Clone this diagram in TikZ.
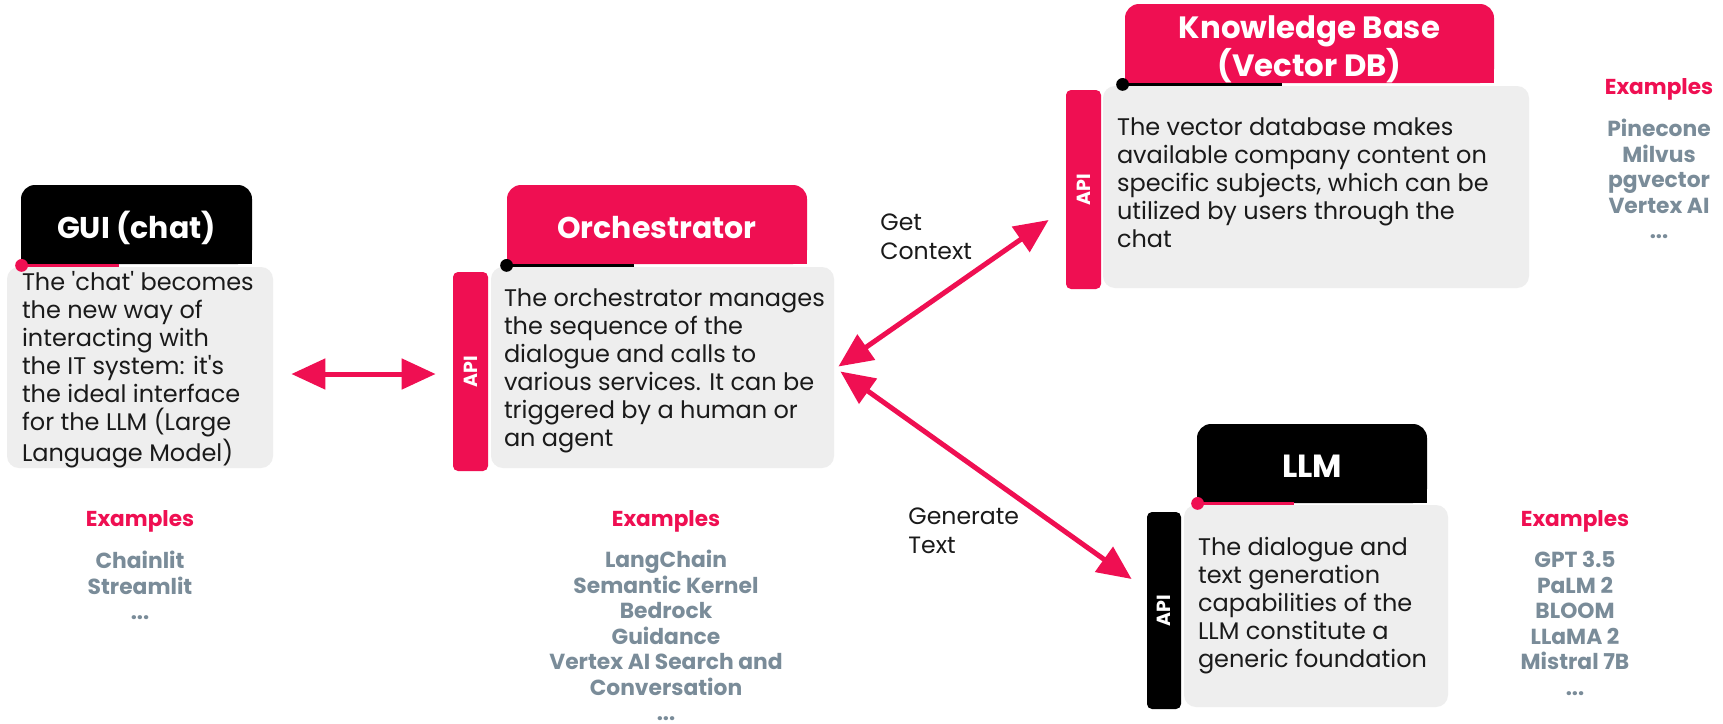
\documentclass[tikz,border=0pt]{standalone}
\usepackage{fontspec}
\setmainfont{Poppins}[Ligatures=TeXOff]
\usetikzlibrary{arrows.meta,backgrounds,calc}

\definecolor{crimson}{HTML}{EF0F52}
\definecolor{slate}{HTML}{7A8C99}
\definecolor{panel}{HTML}{EEEEEE}
\definecolor{ink}{HTML}{1A1A1A}

\tikzset{
  tab/.style={inner sep=0pt, rounded corners=7pt, minimum height=39.5pt},
  tabtitle/.style={inner sep=0pt, text=white, align=center,
    font=\bfseries\fontsize{15}{18.2}\selectfont},
  panelbox/.style={fill=panel, rounded corners=6pt, inner sep=0pt},
  bodytext/.style={anchor=north west, inner sep=0pt, align=left, text=ink,
    font=\fontsize{12}{14}\selectfont},
  apibar/.style={rotate=90, inner sep=0pt, rounded corners=2.5pt, text=white,
    font=\bfseries\fontsize{9.5}{11}\selectfont},
  exhead/.style={text=crimson, font=\bfseries\fontsize{10.8}{12}\selectfont,
    inner sep=0pt, anchor=base},
  exlist/.style={text=slate, font=\bfseries\fontsize{10.9}{12.75}\selectfont,
    align=center, inner sep=0pt, anchor=north},
  flow/.style={crimson, line width=2.5pt,
    {Triangle[length=17pt,width=15pt]}-{Triangle[length=17pt,width=15pt]}},
  lbl/.style={text=ink, font=\fontsize{11.8}{14.5}\selectfont, align=left,
    inner sep=0pt, anchor=north west},
  tabline/.style={line width=1.7pt},
}

\begin{document}
\begin{tikzpicture}[x=0.5pt,y=-0.5pt]
\useasboundingbox (0,0) rectangle (1723,723);
\begin{scope}[on background layer]
  \fill[white] (0,0) rectangle (1723,723);
\end{scope}

% ---------- GUI (chat) ----------
\node[tab, fill=black, minimum width=115.5pt] (guiH) at (136.5,224.5) {};
\node[tabtitle] (guiHT) at ($(guiH.center)+(0,3)$) {GUI (chat)};
\node[panelbox, minimum width=133pt, minimum height=100.5pt] (guiB) at (140,367.5) {};
\node[bodytext] (guiT) at ($(guiB.north west)+(15,4)$)
  {The 'chat' becomes\\the new way of\\interacting with\\the IT system: it's\\the ideal interface\\for the LLM (Large\\Language Model)};
\draw[tabline, crimson] ($(guiH.south west)+(1,1)$) coordinate (guiD) -- ++(97,0);
\fill[crimson] (guiD) circle (3.2pt);

% ---------- Orchestrator ----------
\node[tab, fill=crimson, minimum width=150pt] (orchH) at (657,224.5) {};
\node[tabtitle] (orchHT) at ($(orchH.center)+(0,3)$) {Orchestrator};
\node[panelbox, minimum width=171.5pt, minimum height=100.5pt] (orchB) at (662.5,367.5) {};
\node[apibar, fill=crimson, minimum width=99.5pt, minimum height=17.5pt] (orchA) at (470.5,371.5) {API};
\node[bodytext] (orchT) at ($(orchB.north west)+(13,22)$)
  {The orchestrator manages\\the sequence of the\\dialogue and calls to\\various services. It can be\\triggered by a human or\\an agent};
\draw[tabline, black] ($(orchH.south west)+(0,1)$) coordinate (orchD) -- ++(127,0);
\fill[black] (orchD) circle (3.2pt);

% ---------- Knowledge Base ----------
\node[tab, fill=crimson, minimum width=184.5pt] (kbH) at (1309.5,43.5) {};
\node[tabtitle, font=\bfseries\fontsize{15.4}{18.2}\selectfont] (kbHT) at ($(kbH.center)+(0,6)$) {Knowledge Base\\(Vector DB)};
\node[panelbox, minimum width=213pt, minimum height=101pt] (kbB) at (1316,187) {};
\node[apibar, fill=crimson, minimum width=99.5pt, minimum height=17.5pt] (kbA) at (1083.5,189.5) {API};
\node[bodytext] (kbT) at ($(kbB.north west)+(14,32)$)
  {The vector database makes\\available company content on\\specific subjects, which can be\\utilized by users through the\\chat};
\draw[tabline, black] ($(kbH.south west)+(-2,1)$) coordinate (kbD) -- ++(159,0);
\fill[black] (kbD) circle (3.2pt);

% ---------- LLM ----------
\node[tab, fill=black, minimum width=115pt] (llmH) at (1312,463.5) {};
\node[tabtitle, font=\bfseries\fontsize{16}{18.2}\selectfont] (llmHT) at ($(llmH.center)+(0,3)$) {LLM};
\node[panelbox, minimum width=132pt, minimum height=101pt] (llmB) at (1316,606) {};
\node[apibar, fill=black, minimum width=98.5pt, minimum height=17pt] (llmA) at (1164,610.5) {API};
\node[bodytext] (llmT) at ($(llmB.north west)+(14,32)$)
  {The dialogue and\\text generation\\capabilities of the\\LLM constitute a\\generic foundation};
\draw[tabline, crimson] ($(llmH.south west)+(1,0)$) coordinate (llmD) -- ++(96,0);
\fill[crimson] (llmD) circle (3.2pt);

% square off the bottom corners of the header tabs
\begin{scope}[on background layer]
  \fill[black]   (guiH.west)  rectangle (guiH.south east);
  \fill[crimson] (orchH.west) rectangle (orchH.south east);
  \fill[crimson] (kbH.west)   rectangle (kbH.south east);
  \fill[black]   (llmH.west)  rectangle (llmH.south east);
\end{scope}

% ---------- connectors ----------
\draw[flow] ($(guiB.east)+(18,6.5)$) -- ($(orchB.west)+(-55,6.5)$);
\draw[flow] ($(orchB.east)+(4,-1)$) -- ($(kbB.west)+(-54,33)$);
\draw[flow] ($(orchB.east)+(6,4)$) -- ($(llmB.west)+(-52,-27)$);

\node[lbl] (getL) at (880,213) {Get\\Context};
\node[lbl] (genL) at (908,507) {Generate\\Text};

% ---------- examples ----------
\node[exhead] (guiE) at (140,526) {Examples};
\node[exlist] (guiL) at (140,551) {Chainlit\\Streamlit\\...};

\node[exhead] (orchE) at (666,526) {Examples};
\node[exlist] (orchL) at (666,550) {LangChain\\Semantic Kernel\\Bedrock\\Guidance\\Vertex AI Search and\\Conversation\\...};

\node[exhead] (kbE) at (1659,94) {Examples};
\node[exlist] (kbL) at (1659,119) {Pinecone\\Milvus\\pgvector\\Vertex AI\\...};

\node[exhead] (llmE) at (1575,526) {Examples};
\node[exlist] (llmL) at (1575,551) {GPT 3.5\\PaLM 2\\BLOOM\\LLaMA 2\\Mistral 7B\\...};
\end{tikzpicture}
\end{document}
